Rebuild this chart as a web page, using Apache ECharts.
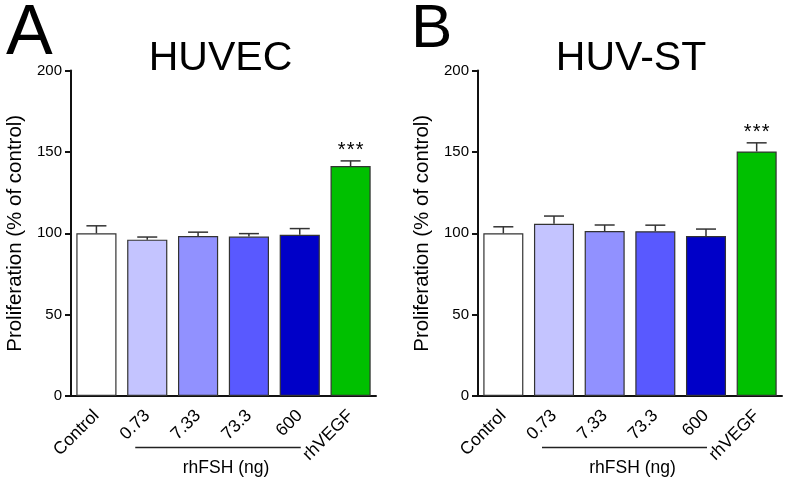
<!DOCTYPE html>
<html>
<head>
<meta charset="utf-8">
<script src="https://cdn.jsdelivr.net/npm/echarts@6/dist/echarts.min.js"></script>
<style>
html,body{margin:0;padding:0;background:#fff;}
#chart{width:787px;height:482px;}
</style>
</head>
<body>
<div id="chart"></div>
<script>
// ---- data ----
const categories = ['Control', '0.73', '7.33', '73.3', '600', 'rhVEGF'];
const panelLetters = ['A', 'B'];
const panelTitles = ['HUVEC', 'HUV-ST'];
const yTicks = [0, 50, 100, 150, 200];
const meansHUVEC = [100, 96.1, 98.3, 98.0, 99.1, 141.3];
const errHUVEC   = [4.6, 1.6, 2.4, 1.8, 3.8, 3.2];
const meansHUVST = [100, 105.9, 101.4, 101.3, 98.3, 150.3];
const errHUVST   = [4.0, 4.7, 3.7, 3.7, 4.3, 5.3];
const significance = ['', '', '', '', '', '***'];
const groupLabel = 'rhFSH (ng)';
const groupRange = [1, 4]; // indices of categories under the bracket
const yAxisTitle = 'Proliferation (% of control)';

// ---- styles ----
const FONT = "'Liberation Sans', Arial, Helvetica, sans-serif";
const barColors = ['#ffffff', '#c4c4ff', '#9191ff', '#5959ff', '#0000c8', '#00c000'];

const chart = echarts.init(document.getElementById('chart'), null, {renderer: 'canvas'});

const grids = [
  {left: 71, width: 305, top: 70.6, bottom: 86},
  {left: 478, width: 304, top: 70.6, bottom: 86}
];

function xAxisCfg(i) {
  return {
    type: 'category', gridIndex: i, data: categories,
    axisLine: {lineStyle: {color: '#111', width: 2}},
    axisTick: {alignWithLabel: true, length: 6, lineStyle: {color: '#111', width: 2}},
    axisLabel: {rotate: 45, margin: 17, fontSize: 17.5, color: '#000', fontFamily: FONT, interval: 0}
  };
}
function yAxisCfg(i) {
  return {
    type: 'value', gridIndex: i, min: yTicks[0], max: yTicks[yTicks.length - 1], interval: 50,
    name: yAxisTitle, nameLocation: 'middle', nameGap: 45,
    nameTextStyle: {fontSize: 20.5, color: '#000', fontFamily: FONT},
    axisLine: {show: true, lineStyle: {color: '#111', width: 2}},
    axisTick: {show: true, length: 6, lineStyle: {color: '#111', width: 2}},
    axisLabel: {fontSize: 15, color: '#000', fontFamily: FONT, margin: 9},
    splitLine: {show: false}
  };
}

function barSeries(i, means) {
  return {
    type: 'bar', xAxisIndex: i, yAxisIndex: i, barWidth: '79%',
    data: means.map((v, k) => ({value: v, itemStyle: {color: barColors[k], borderColor: '#333', borderWidth: 1.2}})),
    z: 2
  };
}

function errSeries(i, means, errs) {
  return {
    type: 'custom', xAxisIndex: i, yAxisIndex: i, z: 3,
    encode: {x: 0, y: [1, 2]},
    data: means.map((m, k) => [k, m, m + errs[k], significance[k]]),
    renderItem: function (params, api) {
      const base = api.coord([api.value(0), api.value(1)]);
      const top = api.coord([api.value(0), api.value(2)]);
      const half = 10;
      const st = {stroke: '#333', lineWidth: 1.5};
      const children = [
        {type: 'line', shape: {x1: base[0], y1: base[1], x2: top[0], y2: top[1]}, style: st},
        {type: 'line', shape: {x1: top[0] - half, y1: top[1], x2: top[0] + half, y2: top[1]}, style: st}
      ];
      const sig = String(api.value(3) || '');
      const n = sig.length;
      for (let j = 0; j < n; j++) {
        children.push({type: 'text', style: {text: sig[j], x: top[0] + (j - (n - 1) / 2) * 9, y: top[1] - 10, align: 'center', verticalAlign: 'middle', fontSize: 20, fontFamily: FONT, fill: '#000'}});
      }
      return {type: 'group', children: children};
    }
  };
}

chart.setOption({
  animation: false,
  backgroundColor: '#fff',
  grid: grids,
  xAxis: [xAxisCfg(0), xAxisCfg(1)],
  yAxis: [yAxisCfg(0), yAxisCfg(1)],
  series: [
    barSeries(0, meansHUVEC), errSeries(0, meansHUVEC, errHUVEC),
    barSeries(1, meansHUVST), errSeries(1, meansHUVST, errHUVST)
  ]
});

// ---- annotations: panel letters, titles, bracket + group label ----
const graphics = [];
const letterPos = [{x: 6, y: 35, size: 70}, {x: 411, y: 30, size: 62}];
const titleOffset = [-3, 1];
for (let i = 0; i < 2; i++) {
  graphics.push({type: 'text', style: {text: panelLetters[i], x: letterPos[i].x, y: letterPos[i].y, align: 'left', verticalAlign: 'middle', fontSize: letterPos[i].size, fontFamily: FONT, fill: '#000'}});
  const g1 = chart.convertToPixel({xAxisIndex: i}, categories[groupRange[0]]);
  const g4 = chart.convertToPixel({xAxisIndex: i}, categories[groupRange[1]]);
  const midAll = grids[i].left + grids[i].width / 2;
  graphics.push({type: 'text', style: {text: panelTitles[i], x: midAll + titleOffset[i], y: 59, align: 'center', verticalAlign: 'middle', fontSize: 41, fontFamily: FONT, fill: '#000'}});
  graphics.push({type: 'line', shape: {x1: g1 - 12, y1: 447.5, x2: g4 + 1, y2: 447.5}, style: {stroke: '#222', lineWidth: 1.3}});
  graphics.push({type: 'text', style: {text: groupLabel, x: (g1 + g4) / 2 + 2.5, y: 468, align: 'center', verticalAlign: 'middle', fontSize: 17.5, fontFamily: FONT, fill: '#000'}});
}
chart.setOption({graphic: graphics});
</script>
</body>
</html>
